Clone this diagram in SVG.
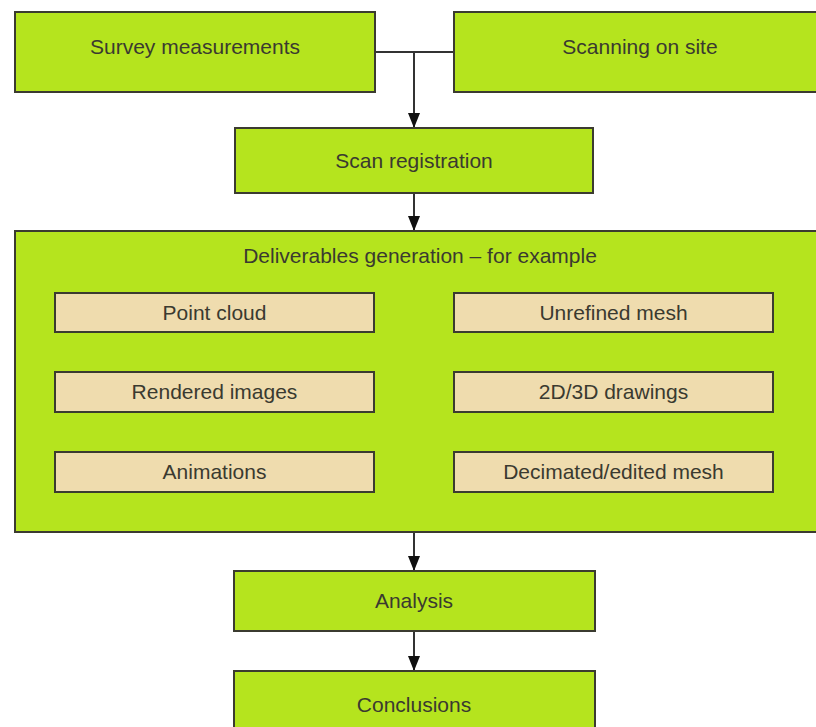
<svg xmlns="http://www.w3.org/2000/svg" width="816" height="727" viewBox="0 0 816 727">
<defs>
<style>
.g{fill:#b5e41e;stroke:#3b3b30;stroke-width:2}
.b{fill:#efdcae;stroke:#3b3b30;stroke-width:2}
.t{font-family:"Liberation Sans",Arial,sans-serif;font-size:21px;fill:#3a3a30;text-anchor:middle}
.c{fill:none;stroke:#333;stroke-width:2}
.a{fill:none;stroke:#333;stroke-width:2;marker-end:url(#ahd)}
</style>
<marker id="ahd" markerWidth="12" markerHeight="15" refX="6" refY="15" orient="0" markerUnits="userSpaceOnUse" viewBox="0 0 12 15">
<path d="M0,0 L12,0 L6,15 Z" fill="#111"/>
</marker>
</defs>
<rect width="816" height="727" fill="#fff"/>
<g id="connectors">
<path class="c" d="M375,52 H454"/>
<path class="a" d="M414,52 V128"/>
<path class="a" d="M414,193 V231"/>
<path class="a" d="M414,532 V571"/>
<path class="a" d="M414,631 V671"/>
</g>
<g id="survey"><rect class="g" x="15" y="12" width="360" height="80"/><text class="t" x="195" y="54">Survey measurements</text></g>
<g id="scanning"><rect class="g" x="454" y="12" width="370" height="80"/><text class="t" x="640" y="54">Scanning on site</text></g>
<g id="registration"><rect class="g" x="235" y="128" width="358" height="65"/><text class="t" x="414" y="168">Scan registration</text></g>
<g id="deliverables"><rect class="g" x="15" y="231" width="810" height="301"/><text class="t" x="420" y="263">Deliverables generation – for example</text></g>
<g id="pointcloud"><rect class="b" x="55" y="293" width="319" height="39"/><text class="t" x="214.5" y="320">Point cloud</text></g>
<g id="unrefined"><rect class="b" x="454" y="293" width="319" height="39"/><text class="t" x="613.5" y="320">Unrefined mesh</text></g>
<g id="rendered"><rect class="b" x="55" y="372" width="319" height="40"/><text class="t" x="214.5" y="399">Rendered images</text></g>
<g id="drawings"><rect class="b" x="454" y="372" width="319" height="40"/><text class="t" x="613.5" y="399">2D/3D drawings</text></g>
<g id="animations"><rect class="b" x="55" y="452" width="319" height="40"/><text class="t" x="214.5" y="479">Animations</text></g>
<g id="decimated"><rect class="b" x="454" y="452" width="319" height="40"/><text class="t" x="613.5" y="479">Decimated/edited mesh</text></g>
<g id="analysis"><rect class="g" x="234" y="571" width="361" height="60"/><text class="t" x="414" y="608">Analysis</text></g>
<g id="conclusions"><rect class="g" x="234" y="671" width="361" height="70"/><text class="t" x="414" y="712">Conclusions</text></g>
</svg>
